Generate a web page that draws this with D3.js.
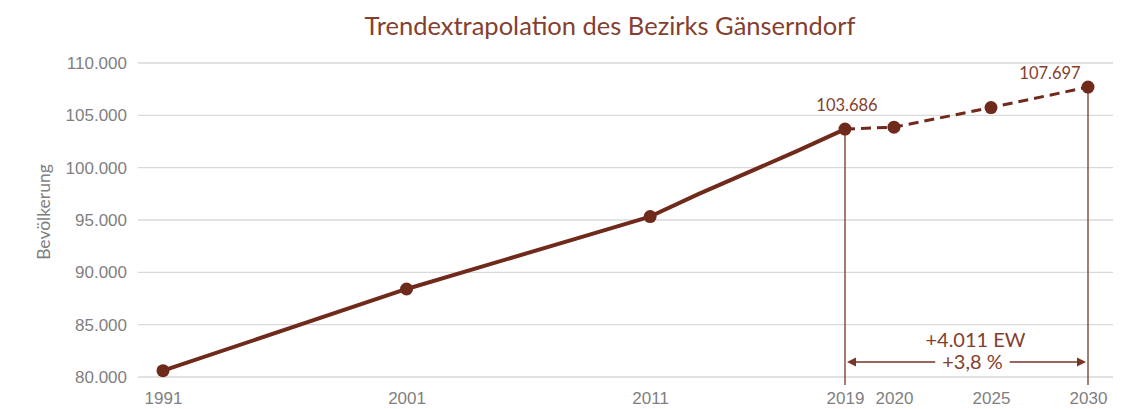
<!DOCTYPE html>
<meta charset="utf-8">
<style>
    body { margin: 0; background: #fff; }
    svg { font-family: Lato, "Open Sans", sans-serif; }
    .grid line { stroke: #d9d9d9; stroke-width: 1.3; }
    .tick text { fill: #7f7f7f; font-size: 17px; }
</style>
<body>
<script src="https://cdn.jsdelivr.net/npm/d3@7"></script>
<script>
    const pastYears  = [1991, 2001, 2008, 2011, 2013, 2017, 2019];
    const pastValues = [80600, 88410, 93250, 95330, 97500, 101550, 103686];
    // trend extrapolation
    const trendYears  = [2019, 2020, 2025, 2030];
    const trendValues = [103686, 103870, 105745, 107697];
    // years carrying a marker / axis label
    const markerYears = [1991, 2001, 2011, 2019, 2020, 2025, 2030];
    const yTicks = [80000, 85000, 90000, 95000, 100000, 105000, 110000];
    const labelYears = [2019, 2030];
    const deltaText = ["+4.011 EW", "+3,8 %"];

    const title = "Trendextrapolation des Bezirks Gänserndorf";
    const yTitle = "Bevölkerung";

    const width = 1126, height = 409;
    const lineColor = "#6f2a1c";
    const textColor = "#84402f";

    const de = d3.formatLocale({decimal: ",", thousands: ".", grouping: [3], currency: ["", " €"]});
    const fmt = de.format(",d");

    const past = pastYears.map((y, i) => ({year: y, value: pastValues[i]}));
    const trend = trendYears.map((y, i) => ({year: y, value: trendValues[i]}));
    const all = past.concat(trend.slice(1));
    const valueOf = y => all.find(d => d.year === y).value;

    const svg = d3.select("body").append("svg")
        .attr("width", width)
        .attr("height", height);

    // category-like x axis: yearly steps until 2019, wider spacing after
    const x = d3.scaleLinear()
        .domain([1991, 2019, 2020, 2030])
        .range([163, 845, 894, 1088]);
    const y = d3.scaleLinear()
        .domain([80000, 110000])
        .range([377, 63]);

    // gridlines
    svg.append("g")
        .attr("class", "grid")
        .selectAll("line")
        .data(yTicks)
        .enter().append("line")
        .attr("x1", 138)
        .attr("x2", 1113)
        .attr("y1", d => y(d))
        .attr("y2", d => y(d));

    // y axis labels
    const yAxis = svg.append("g")
        .attr("transform", "translate(138,0)")
        .call(d3.axisLeft(y).tickValues(yTicks).tickFormat(fmt).tickSize(0).tickPadding(11));
    yAxis.select(".domain").remove();

    // x axis labels
    const xAxis = svg.append("g")
        .attr("transform", "translate(0,377)")
        .call(d3.axisBottom(x).tickValues(markerYears).tickFormat(d3.format("d")).tickSize(0).tickPadding(15));
    xAxis.select(".domain").remove();

    // titles
    svg.append("text")
        .attr("x", 610)
        .attr("y", 35)
        .attr("text-anchor", "middle")
        .style("font-size", "25.5px")
        .style("fill", textColor)
        .text(title);

    svg.append("text")
        .attr("transform", "translate(50,212) rotate(-90)")
        .attr("text-anchor", "middle")
        .style("font-size", "17.5px")
        .style("fill", "#7f7f7f")
        .text(yTitle);

    // vertical reference lines
    svg.append("g")
        .selectAll("line")
        .data(labelYears)
        .enter().append("line")
        .attr("x1", d => x(d))
        .attr("x2", d => x(d))
        .attr("y1", d => y(valueOf(d)))
        .attr("y2", 385)
        .style("stroke", "#7a3526")
        .style("stroke-width", 1.3);

    // lines
    const line = d3.line().x(d => x(d.year)).y(d => y(d.value));

    svg.append("path")
        .datum(past)
        .attr("d", line)
        .style("fill", "none")
        .style("stroke", lineColor)
        .style("stroke-width", 4)
        .style("stroke-linejoin", "round");

    svg.append("path")
        .datum(trend)
        .attr("d", line)
        .style("fill", "none")
        .style("stroke", lineColor)
        .style("stroke-width", 3)
        .style("stroke-dasharray", "10,6");

    // markers
    svg.append("g")
        .selectAll("circle")
        .data(all.filter(d => markerYears.includes(d.year)))
        .enter().append("circle")
        .attr("cx", d => x(d.year))
        .attr("cy", d => y(d.value))
        .attr("r", 6.5)
        .style("fill", lineColor);

    // data labels
    svg.append("g")
        .selectAll("text")
        .data(labelYears)
        .enter().append("text")
        .attr("x", (d, i) => x(d) + (i === 0 ? 2 : -38))
        .attr("y", (d, i) => y(valueOf(d)) + (i === 0 ? -18 : -8))
        .attr("text-anchor", "middle")
        .style("font-size", "16.5px")
        .style("fill", textColor)
        .text(d => fmt(valueOf(d)));

    // difference arrow
    const ay = 362;
    const x0 = x(labelYears[0]) + 2, x1 = x(labelYears[1]) - 2;
    const arrow = svg.append("g");
    arrow.append("line")
        .attr("x1", x0 + 6).attr("x2", x1 - 6)
        .attr("y1", ay).attr("y2", ay)
        .style("stroke", "#7a3526")
        .style("stroke-width", 1.5);
    arrow.append("path")
        .attr("d", `M${x0},${ay}L${x0 + 9},${ay - 4.5}L${x0 + 9},${ay + 4.5}Z`)
        .style("fill", "#7a3526");
    arrow.append("path")
        .attr("d", `M${x1},${ay}L${x1 - 9},${ay - 4.5}L${x1 - 9},${ay + 4.5}Z`)
        .style("fill", "#7a3526");

    const cx = (x0 + x1) / 2 + 6;
    const gap = arrow.append("rect").style("fill", "#fff");
    const t2 = arrow.append("text")
        .attr("x", cx)
        .attr("y", ay + 7)
        .attr("text-anchor", "middle")
        .style("font-size", "20px")
        .style("fill", textColor)
        .text(deltaText[1]);
    const bb = t2.node().getBBox();
    gap.attr("x", bb.x - 7).attr("y", ay - 3)
        .attr("width", bb.width + 14).attr("height", 6);

    arrow.append("text")
        .attr("x", cx + 3)
        .attr("y", ay - 15)
        .attr("text-anchor", "middle")
        .style("font-size", "20px")
        .style("fill", textColor)
        .text(deltaText[0]);
</script>
</body>
